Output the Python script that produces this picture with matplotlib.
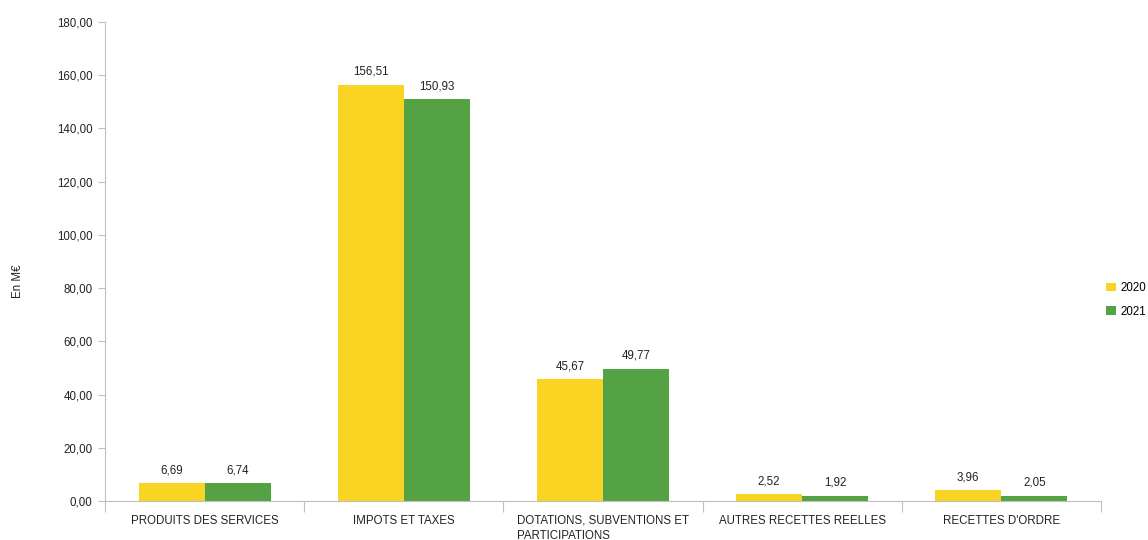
import matplotlib.pyplot as plt
import numpy as np

plt.rcParams['font.family'] = ['Liberation Sans', 'DejaVu Sans']

categories = ['PRODUITS DES SERVICES', 'IMPOTS ET TAXES',
              'DOTATIONS, SUBVENTIONS ET\nPARTICIPATIONS',
              'AUTRES RECETTES REELLES', "RECETTES D'ORDRE"]
vals_2020 = [6.69, 156.51, 45.67, 2.52, 3.96]
vals_2021 = [6.74, 150.93, 49.77, 1.92, 2.05]
years = ['2020', '2021']
colors = ['#F9D423', '#55A244']

fig = plt.figure(figsize=(11.48, 5.4), dpi=100)
ax = fig.add_axes([0.0915, 0.0722, 0.8675, 0.887])

x = np.arange(len(categories))
w = 0.332
b1 = ax.bar(x - w / 2, vals_2020, w, color=colors[0], label=years[0])
b2 = ax.bar(x + w / 2, vals_2021, w, color=colors[1], label=years[1])

def fmt(v):
    return f'{v:.2f}'.replace('.', ',')

for bars, vals in [(b1, vals_2020), (b2, vals_2021)]:
    for r, v in zip(bars, vals):
        ax.annotate(fmt(v), (r.get_x() + r.get_width() / 2, v),
                    xytext=(0, 5), textcoords='offset points',
                    ha='center', va='bottom', fontsize=8.3, color='#222222')

ax.set_xlim(-0.5, len(categories) - 0.5)
ax.set_ylim(0, 180)
ax.set_yticks(np.arange(0, 181, 20))
ax.set_yticklabels([fmt(t) for t in np.arange(0, 181, 20)], fontsize=8.3, color='#222222')

# category labels between boundary ticks
ax.set_xticks(np.arange(-0.5, len(categories), 1))
ax.set_xticklabels([])
ax.set_xticks(x, minor=True)
ax.set_xticklabels(categories, minor=True, fontsize=8.3, color='#222222',
                   va='top', multialignment='left', linespacing=1.3)
ax.tick_params(axis='x', which='major', length=8, color='#bfbfbf')
ax.tick_params(axis='x', which='minor', length=0, pad=10)
ax.tick_params(axis='y', length=5, color='#bfbfbf', pad=4)

for s in ['top', 'right']:
    ax.spines[s].set_visible(False)
for s in ['left', 'bottom']:
    ax.spines[s].set_color('#bfbfbf')

fig.text(0.016, 0.48, 'En M€', rotation=90, fontsize=8.3, va='center', ha='center', color='#222222')

ax.legend(loc='center left', bbox_to_anchor=(0.995, 0.42), frameon=False,
          fontsize=8.3, handlelength=0.8, handleheight=0.8, handletextpad=0.4,
          labelspacing=1.0)

fig.savefig('out.png', dpi=100)
